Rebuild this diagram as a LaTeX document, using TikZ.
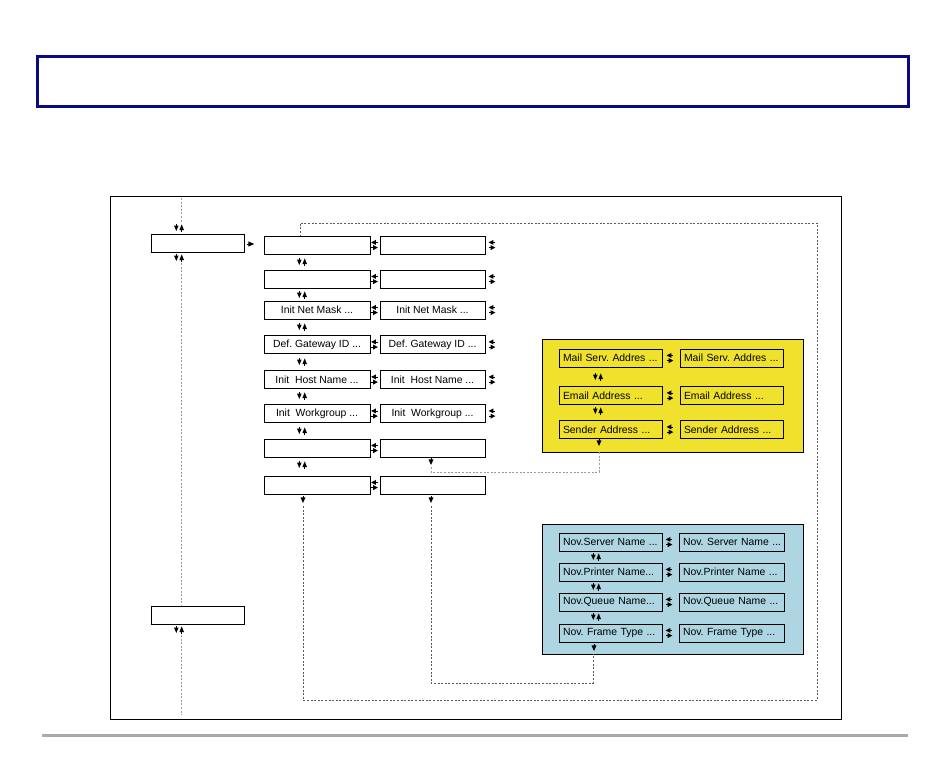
\documentclass[tikz,border=0pt]{standalone}
\usepackage{fontspec}
\setmainfont{Liberation Sans}
\frenchspacing
\definecolor{navyb}{RGB}{12,10,128}
\definecolor{yellowbg}{RGB}{240,226,44}
\definecolor{bluebg}{RGB}{173,214,226}
\definecolor{rulegray}{RGB}{170,170,170}
\newcommand{\nb}[1]{\mbox{#1}}
\begin{document}
\begin{tikzpicture}[x=1pt,y=-1pt,
  mb/.style={draw,line width=0.75pt,minimum height=18pt,inner ysep=0pt,font=\fontsize{10.4}{12}\selectfont},
  mid/.style={mb,minimum width=106pt,inner xsep=1pt},
  lft/.style={mb,minimum width=93pt},
  inl/.style={mb,text width=95pt,inner xsep=4pt,align=left},
  inr/.style={mb,text width=97pt,inner xsep=4pt,align=left},
  area/.style={draw,line width=0.8pt,inner sep=0pt},
  dl/.style={dash pattern=on 2pt off 1.6pt,line width=0.6pt,black!65},
  dlg/.style={dash pattern=on 2pt off 1.6pt,line width=0.6pt,black!40},
  updn/.pic={\fill (-5,-2.4) -- (-0.4,-2.4) -- (-2.7,3) -- cycle;
             \draw[line width=0.6pt] (-2.7,-4.2) -- (-2.7,-2.2);
             \fill (0.4,2) -- (5,2) -- (2.7,-3.6) -- cycle;
             \draw[line width=0.6pt] (2.7,1.8) -- (2.7,3.8);},
  lrarr/.pic={\fill (-3.4,-2.6) -- (1.4,-5.1) -- (1.4,-0.1) -- cycle;
              \draw[line width=0.6pt] (1.2,-2.6) -- (3.2,-2.6);
              \fill (3.4,2.6) -- (-1.4,0.1) -- (-1.4,5.1) -- cycle;
              \draw[line width=0.6pt] (-1.2,2.6) -- (-3.2,2.6);},
  dnarr/.pic={\fill (-2.5,-2.6) -- (2.5,-2.6) -- (0,3) -- cycle;
              \draw[line width=0.6pt] (0,-4.2) -- (0,-2.4);},
  rtarr/.pic={\fill (-2.6,-2.6) -- (-2.6,2.6) -- (3.2,0) -- cycle;
              \draw[line width=0.6pt] (-4.2,0) -- (-2.4,0);}
]
\useasboundingbox (0,0) rectangle (950,756);

% title bar and bottom rule
\node[draw=navyb,line width=2.6pt,fill=white,minimum width=871pt,minimum height=50pt,inner sep=0pt] (title) at (473,81.5) {};
\coordinate (ruleA) at (42,735);
\coordinate (ruleB) at (908,735);
\draw[rulegray,line width=3pt] (ruleA) -- (ruleB);

% main frame
\node[draw,line width=0.8pt,minimum width=731pt,minimum height=523pt,inner sep=0pt] (frame) at (475.5,457.5) {};

% coloured areas
\node[area,fill=yellowbg,minimum width=261pt,minimum height=113pt] (Y) at (672.5,395.5) {};
\node[area,fill=bluebg,minimum width=261pt,minimum height=130pt] (B) at (672.5,589) {};

% left column
\node[lft] (L1) at (197.5,243.5) {};
\node[lft] (L2) at (197.5,615) {};
\coordinate (lt0) at (181,198);
\coordinate (lt1) at (181,222);
\coordinate (lt2) at (181,263);
\coordinate (lt3) at (181,635);
\coordinate (lt4) at (181,715);
\draw[dlg] (lt0) -- (lt1);
\draw[dlg] (lt2) -- (lt2 |- L2.north);
\draw[dlg] (lt3) -- (lt4);
\pic at (179,228) {updn};
\pic at (179,258) {updn};
\pic at (179,630) {updn};
\pic at (251,244) {rtarr};

% middle columns
\node[mid] (m1) at (317,245) {};
\node[mid] (m2) at (317,279) {};
\node[mid] (m3) at (317,310) {\nb{Init Net Mask ...}};
\node[mid] (m4) at (317,344.5) {\nb{Def. Gateway ID ...}};
\node[mid] (m5) at (317,379.5) {\nb{Init\ \ Host Name ...}};
\node[mid] (m6) at (317,413.5) {\nb{Init\ \ Workgroup ...}};
\node[mid] (m7) at (317,448) {};
\node[mid] (m8) at (317,485) {};
\node[mid,minimum width=105pt] (r1) at (432.5,245) {};
\node[mid,minimum width=105pt] (r2) at (432.5,279) {};
\node[mid,minimum width=105pt] (r3) at (432.5,310) {\nb{Init Net Mask ...}};
\node[mid,minimum width=105pt] (r4) at (432.5,344.5) {\nb{Def. Gateway ID ...}};
\node[mid,minimum width=105pt] (r5) at (432.5,379.5) {\nb{Init\ \ Host Name ...}};
\node[mid,minimum width=105pt] (r6) at (432.5,413.5) {\nb{Init\ \ Workgroup ...}};
\node[mid,minimum width=105pt] (r7) at (432.5,448) {};
\node[mid,minimum width=105pt] (r8) at (432.5,485) {};
\foreach \y in {245,279,310,344.5,379.5,413.5,448,485} {\pic at (374.5,\y) {lrarr};}
\foreach \y in {245,279,310,344.5,379.5,413.5} {\pic at (492,\y) {lrarr};}
\foreach \y in {262,295,327,362,396,431,465} {\pic at (302,\y) {updn};}
\pic at (303,500) {dnarr};
\pic at (431,500) {dnarr};
\pic at (431,462) {dnarr};

% yellow area
\node[inl] (y1l) at (610.5,358) {\nb{Mail Serv. Addres ...}};
\node[inl] (y2l) at (610.5,395.5) {\nb{Email Address ...}};
\node[inl] (y3l) at (610.5,429.5) {\nb{Sender Address ...}};
\node[inl] (y1r) at (731.5,358) {\nb{Mail Serv. Addres ...}};
\node[inl] (y2r) at (731.5,395.5) {\nb{Email Address ...}};
\node[inl] (y3r) at (731.5,429.5) {\nb{Sender Address ...}};
\foreach \y in {358,395.5,429.5} {\pic at (670,\y) {lrarr};}
\pic at (598,377) {updn};
\pic at (598,411) {updn};
\pic at (599,443) {dnarr};

% blue area
\node[inl] (b1l) at (610.5,542) {\nb{Nov.Server Name ...}};
\node[inl] (b2l) at (610.5,572) {\nb{Nov.Printer Name...}};
\node[inl] (b3l) at (610.5,602) {\nb{Nov.Queue Name...}};
\node[inl] (b4l) at (610.5,633) {\nb{Nov. Frame Type ...}};
\node[inr] (b1r) at (731.5,542) {\nb{Nov. Server Name ...}};
\node[inr] (b2r) at (731.5,572) {\nb{Nov.Printer Name ...}};
\node[inr] (b3r) at (731.5,602) {\nb{Nov.Queue Name ...}};
\node[inr] (b4r) at (731.5,633) {\nb{Nov. Frame Type ...}};
\foreach \y in {542,572,602,633} {\pic at (669,\y) {lrarr};}
\pic at (596,557) {updn};
\pic at (596,587) {updn};
\pic at (596,617) {updn};
\pic at (594,648) {dnarr};

% dashed return paths
\coordinate (d1) at (303,506);
\coordinate (d2) at (303,700);
\coordinate (d3) at (817,700);
\coordinate (d4) at (817,223);
\coordinate (d5) at (300,223);
\draw[dl] (d1) -- (d2) -- (d3) -- (d4) -- (d5) -- (d5 |- m1.north);

\coordinate (e1) at (431,506);
\coordinate (e2) at (431,683);
\coordinate (e3) at (593,683);
\draw[dl] (e1) -- (e2) -- (e3) -- (e3 |- B.south);

\coordinate (f1) at (431,467);
\coordinate (f2) at (431,472);
\coordinate (f3) at (599,472);
\draw[dlg] (f1) -- (f2) -- (f3) -- (f3 |- Y.south);
\end{tikzpicture}
\end{document}
